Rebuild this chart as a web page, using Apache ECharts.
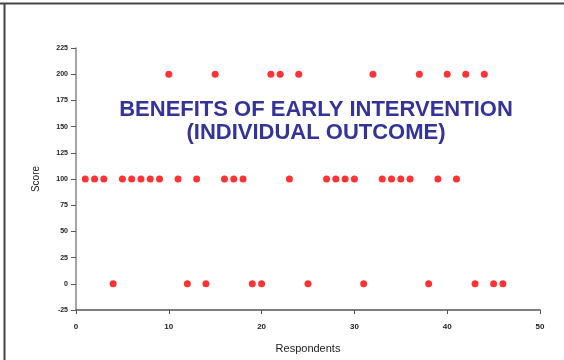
<!DOCTYPE html>
<html><head><meta charset="utf-8">
<script src="https://cdn.jsdelivr.net/npm/echarts@6/dist/echarts.min.js"></script>
<style>html,body{margin:0;padding:0;background:#fff}#c{width:564px;height:360px}</style>
</head><body><div id="c"></div>
<script>
const respondents = [1,2,3,4,5,6,7,8,9,10,11,12,13,14,15,16,17,18,19,20,21,22,23,24,25,27,28,29,30,31,32,33,34,35,36,37,38,39,40,41,42,43,44,45,46];
const scores = [100,100,100,0,100,100,100,100,100,200,100,0,100,0,200,100,100,100,0,0,200,200,100,200,0,100,100,100,100,0,200,100,100,100,100,200,0,100,200,100,200,0,200,0,0];
const titleLines = ['BENEFITS OF EARLY INTERVENTION', '(INDIVIDUAL OUTCOME)'];

const chart = echarts.init(document.getElementById('c'), null, {renderer: 'canvas'});
chart.setOption({
  animation: false,
  backgroundColor: '#fff',
  title: {
    text: titleLines.join('\n'),
    left: 311, top: 93, textAlign: 'center',
    textStyle: {fontFamily: 'Liberation Sans, Arial', fontSize: 22, fontWeight: 'bold', color: '#333399', lineHeight: 23}
  },
  grid: {left: 76, right: 24, top: 48, bottom: 50, containLabel: false},
  xAxis: {
    type: 'value', min: 0, max: 50, interval: 10,
    name: 'Respondents', nameLocation: 'middle', nameGap: 33,
    nameTextStyle: {fontFamily: 'Liberation Sans, Arial', fontSize: 11, color: '#222'},
    axisLine: {show: true, onZero: false, lineStyle: {color: '#555', width: 1.5}},
    axisTick: {show: true, length: 4, lineStyle: {color: '#555'}},
    axisLabel: {fontFamily: 'Liberation Sans, Arial', fontSize: 8, fontWeight: 'bold', color: '#222', margin: 13},
    splitLine: {show: false}
  },
  yAxis: {
    type: 'value', min: -25, max: 225, interval: 25,
    name: 'Score', nameLocation: 'middle', nameGap: 35, nameRotate: 90,
    nameTextStyle: {fontFamily: 'Liberation Sans, Arial', fontSize: 10, color: '#222'},
    axisLine: {show: true, onZero: false, lineStyle: {color: '#888', width: 1.5}},
    axisTick: {show: true, length: 5, lineStyle: {color: '#555'}},
    axisLabel: {fontFamily: 'Liberation Sans, Arial', fontSize: 7, fontWeight: 'bold', color: '#222', margin: 8},
    splitLine: {show: false}
  },
  series: [{
    type: 'scatter',
    symbol: 'circle', symbolSize: 7,
    itemStyle: {color: '#ff0000'},
    data: respondents.map((r, i) => [r, scores[i]])
  }],
  graphic: [
    {type: 'line', shape: {x1: 0, y1: 3.5, x2: 564, y2: 3.5}, style: {stroke: '#444', lineWidth: 2}},
    {type: 'line', shape: {x1: 4.5, y1: 3, x2: 4.5, y2: 360}, style: {stroke: '#444', lineWidth: 2}}
  ]
});
</script></body></html>
